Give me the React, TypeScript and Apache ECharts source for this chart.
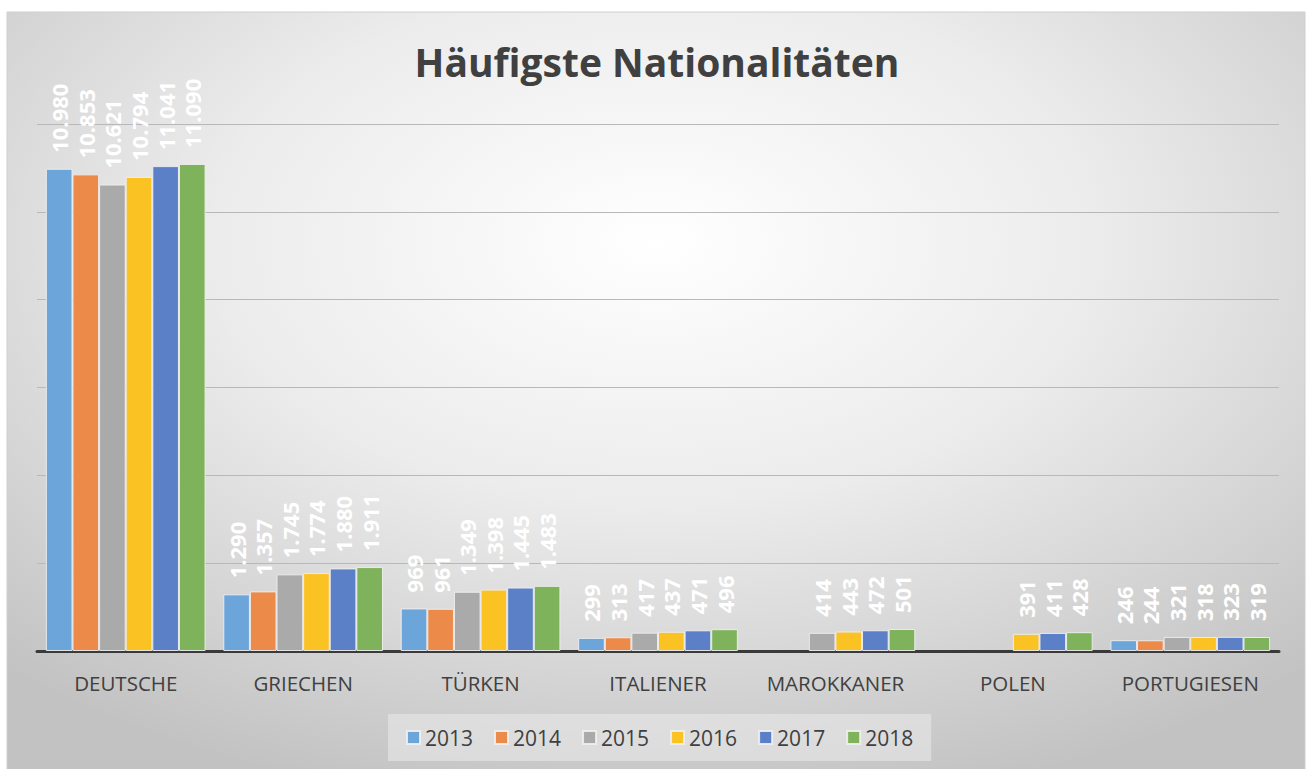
import React, { useEffect, useRef } from "react";
import * as echarts from "echarts";

const categories = ["DEUTSCHE", "GRIECHEN", "TÜRKEN", "ITALIENER", "MAROKKANER", "POLEN", "PORTUGIESEN"];
const years = ["2013", "2014", "2015", "2016", "2017", "2018"];
const v2013 = [10980, 1290, 969, 299, null, null, 246];
const v2014 = [10853, 1357, 961, 313, null, null, 244];
const v2015 = [10621, 1745, 1349, 417, 414, null, 321];
const v2016 = [10794, 1774, 1398, 437, 443, 391, 318];
const v2017 = [11041, 1880, 1445, 471, 472, 411, 323];
const v2018 = [11090, 1911, 1483, 496, 501, 428, 319];
const seriesValues = [v2013, v2014, v2015, v2016, v2017, v2018];
const colors = ["#6ca5da", "#ec8a4a", "#aaaaaa", "#fbc224", "#5b80c8", "#7fb35b"];

const FONT = "'Open Sans', 'Noto Sans', sans-serif";

function fmt(v: number): string {
  const s = String(Math.round(v));
  return s.replace(/\B(?=(\d{3})+(?!\d))/g, ".");
}

export default function App() {
  const ref = useRef<HTMLDivElement>(null);
  useEffect(() => {
    document.body.style.margin = "0";
    if (!ref.current) return;
    const chart = echarts.init(ref.current, null, { renderer: "svg" });
    chart.setOption({
      animation: false,
      backgroundColor: "#ffffff",
      graphic: [
        {
          type: "rect",
          silent: true,
          z: -100,
          shape: { x: 7, y: 12, width: 1298, height: 770 },
          style: {
            fill: {
              type: "radial",
              x: 0.5,
              y: 0.3,
              r: 0.75,
              colorStops: [
                { offset: 0, color: "#ffffff" },
                { offset: 0.45, color: "#ececec" },
                { offset: 1, color: "#c2c2c2" },
              ],
            },
            stroke: "#cfcfcf",
            lineWidth: 1,
          },
        },
      ],
      title: {
        text: "Häufigste Nationalitäten",
        left: 652,
        textAlign: "center",
        top: 37,
        textStyle: { fontFamily: FONT, fontSize: 39, fontWeight: "bold", color: "#404040" },
      },
      legend: {
        data: years,
        left: 388,
        top: 714,
        padding: [13, 18],
        itemWidth: 13,
        itemHeight: 13,
        itemGap: 21,
        backgroundColor: "rgba(235,235,235,0.55)",
        icon: "rect",
        textStyle: { fontFamily: FONT, fontSize: 21, color: "#404040" },
      },
      grid: { left: 37, right: 30, top: 124, bottom: 118, containLabel: false },
      xAxis: {
        type: "category",
        data: categories,
        axisLine: { lineStyle: { color: "#3a3a3a", width: 3 } },
        axisTick: { show: false },
        axisLabel: { fontFamily: FONT, fontSize: 20.5, color: "#404040", margin: 21, interval: 0 },
      },
      yAxis: {
        type: "value",
        min: 0,
        max: 12000,
        interval: 2000,
        axisLabel: { show: false },
        axisLine: { show: false },
        axisTick: { show: false },
        splitLine: { lineStyle: { color: "#b8b8b8", width: 1 } },
      },
      series: years.map((y, i) => ({
        name: y,
        type: "bar",
        data: seriesValues[i],
        barGap: "0%",
        barCategoryGap: "10%",
        itemStyle: { color: colors[i], borderColor: "rgba(240,240,240,0.9)", borderWidth: 1 },
        label: {
          show: true,
          position: "top",
          rotate: 90,
          align: "left",
          verticalAlign: "middle",
          distance: 16,
          color: "#ffffff",
          fontFamily: FONT,
          fontWeight: "bold",
          fontSize: 22,
          formatter: (p: any) => (p.value == null ? "" : fmt(p.value)),
        },
      })),
    });
    return () => chart.dispose();
  }, []);
  return <div ref={ref} style={{ width: 1309, height: 769 }} />;
}
